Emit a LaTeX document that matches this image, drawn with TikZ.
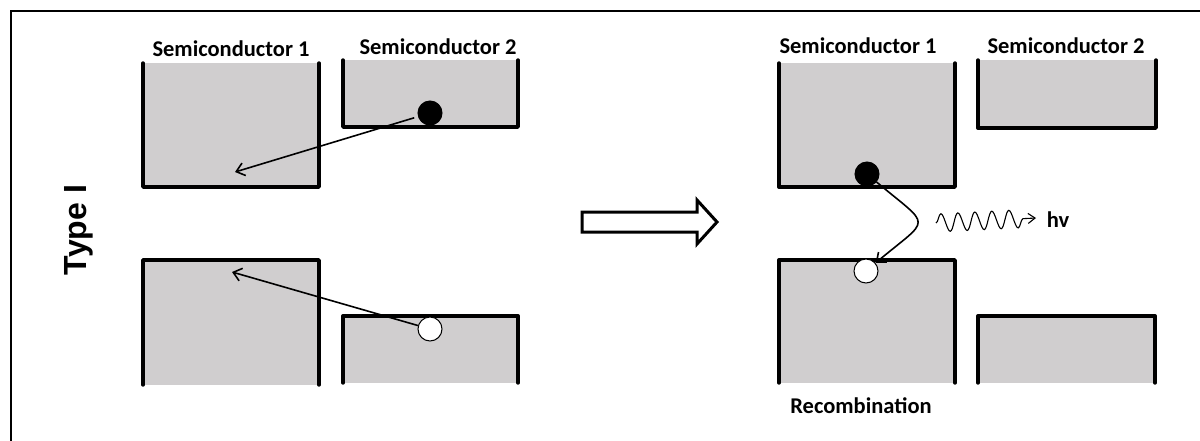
\documentclass[tikz,border=0pt]{standalone}
\usepackage{fontspec}
\setmainfont{Carlito}
\newfontfamily\typefont{Liberation Sans}
\usetikzlibrary{arrows.meta,decorations.pathmorphing}

\definecolor{bandgray}{HTML}{D0CECF}

\begin{document}
\begin{tikzpicture}[x=1pt,y=-1pt,
    band/.style={line width=3.4pt,line cap=round,line join=round},
    label/.style={font=\bfseries\fontsize{22.5}{22.5}\selectfont,inner sep=0pt},
    carrier/.style={circle,draw,line width=1pt,minimum size=24pt,inner sep=0pt},
    elec/.style={carrier,fill=black},
    hole/.style={carrier,fill=white},
    jump/.style={line width=1.6pt,-{Straight Barb[length=8pt,width=13pt]}}]
  \useasboundingbox (0,0) rectangle (1200,440);
  % frame
  \draw[line width=2.4pt] (11,445) -- (11,11) -- (1205,11);

  % conduction bands (open at the top)
  \fill[bandgray] (143,63) rectangle (319,187);
  \draw[band] (143,63) -- (143,187) -- (319,187) -- (319,63);
  \fill[bandgray] (343,60) rectangle (518,127);
  \draw[band] (343,60) -- (343,127) -- (518,127) -- (518,60);
  \fill[bandgray] (779,63) rectangle (955,187);
  \draw[band] (779,63) -- (779,187) -- (955,187) -- (955,63);
  \fill[bandgray] (978,60) rectangle (1156,128);
  \draw[band] (978,60) -- (978,128) -- (1156,128) -- (1156,60);

  % valence bands (open at the bottom)
  \fill[bandgray] (143,260) rectangle (319,385);
  \draw[band] (143,385) -- (143,260) -- (319,260) -- (319,385);
  \fill[bandgray] (343,316) rectangle (518,383);
  \draw[band] (343,383) -- (343,316) -- (518,316) -- (518,383);
  \fill[bandgray] (779,260) rectangle (955,383);
  \draw[band] (779,383) -- (779,260) -- (955,260) -- (955,383);
  \fill[bandgray] (978,316) rectangle (1155,383);
  \draw[band] (978,383) -- (978,316) -- (1155,316) -- (1155,383);

  % labels
  \node[label] (s1a) at (231,49) {Semiconductor 1};
  \node[label] (s2a) at (438,47) {Semiconductor 2};
  \node[label] (s1b) at (858,46) {Semiconductor 1};
  \node[label] (s2b) at (1066,46) {Semiconductor 2};
  \node[label] (rec) at (861,406) {Recombination};
  \node[label] (hv) at (1058,220) {hv};
  \node[font=\typefont\bfseries\fontsize{32}{32}\selectfont,rotate=90,inner sep=0pt]
    (type) at (79,230) {Type I};

  % charge transfer across the interface
  \node[elec] (e1) at (430,113) {};
  \node[hole] (h1) at (430,329) {};
  \coordinate (c1) at (235,172);
  \coordinate (v1) at (232,272);
  \draw[jump,shorten <=4pt] (e1) -- (c1);
  \draw[jump] (h1) -- (v1);

  \draw[line width=3pt,line join=miter] (582,212) -- (697,212) -- (697,200)
    -- (717,222) -- (697,244) -- (697,232) -- (582,232) -- cycle;

  % recombination in semiconductor 1
  \node[elec] (e2) at (867,174) {};
  \node[hole] (h2) at (866,271) {};
  \draw[jump] (e2) to[out=-40,in=40,looseness=2.3] (h2);
  \coordinate (ph0) at (936,223);
  \coordinate (ph1) at (1036,218);
  \draw[line width=1.1pt,-{Straight Barb[length=7pt,width=10pt]},
    decorate,decoration={snake,amplitude=9pt,segment length=17pt,post length=10pt}]
    (ph0) -- (ph1);
\end{tikzpicture}
\end{document}
